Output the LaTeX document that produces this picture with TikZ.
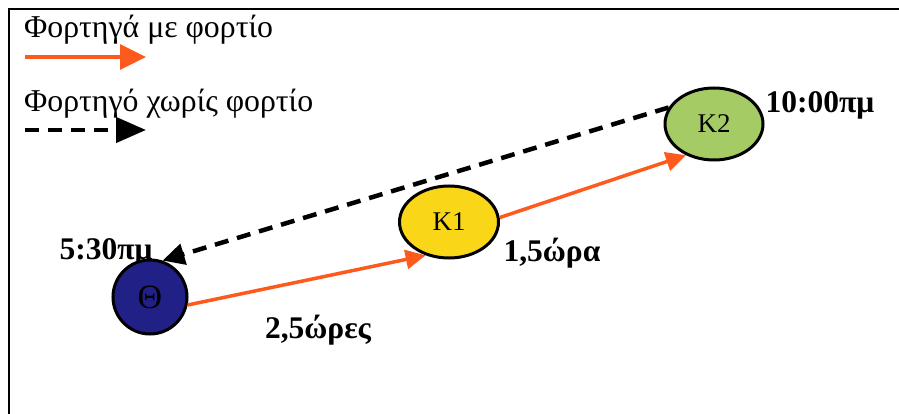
\documentclass[tikz,border=0pt]{standalone}
\usepackage{fontspec}
\setmainfont{Liberation Serif}
\usepackage{xcolor}
\usepackage{tikz}
\usetikzlibrary{shapes.geometric, arrows.meta, positioning}
\definecolor{loadorange}{RGB}{255,90,30}
\definecolor{depotblue}{RGB}{32,32,135}
\definecolor{kyellow}{RGB}{250,214,25}
\definecolor{kgreen}{RGB}{165,204,100}

\begin{document}
\begin{tikzpicture}[x=1pt, y=-1pt,
  legend/.style={font=\fontsize{31.8}{34}\selectfont, anchor=west, inner sep=0pt},
  timelbl/.style={font=\fontsize{31.5}{34}\selectfont\bfseries, inner sep=0pt},
  stop/.style={ellipse, draw=black, line width=3pt, inner sep=0pt,
    font=\fontsize{27}{29}\selectfont},
  loaded/.style={loadorange, line width=3.5pt, -{Triangle[length=20pt,width=19pt]}},
  empty/.style={black, line width=4.5pt, dash pattern=on 14pt off 9pt,
    -{Triangle[length=22pt,width=21pt]}}]
  \useasboundingbox (0,0) rectangle (899,414);
  % frame (only top and left edge visible)
  \draw[line width=2.5pt] (9,414) -- (9,9) -- (899,9);
  % legend
  \node[legend] (legA) at (24,30) {Φορτηγά με φορτίο};
  \coordinate (legAs) at (25,57);
  \coordinate (legAe) at (146,57);
  \draw[loaded, -{Triangle[length=26pt,width=25pt]}] (legAs) -- (legAe);
  \node[legend] (legB) at (24,104) {Φορτηγό χωρίς φορτίο};
  \coordinate (legBs) at (25,130);
  \coordinate (legBe) at (146,130);
  \draw[empty, -{Triangle[length=30pt,width=25pt]}] (legBs) -- (legBe);
  % time labels (drawn first, arrow head lies over them)
  \node[timelbl] (t0) at (106,252) {5:30πμ};
  \node[timelbl] (t1) at (318,330) {2,5ώρες};
  \node[timelbl] (t2) at (552,253) {1,5ώρα};
  \node[timelbl] (t3) at (820,105) {10:00πμ};
  % stops
  \node[stop, circle, fill=depotblue, minimum size=74pt, text=black,
    font=\fontsize{34}{36}\selectfont] (th) at (150,297) {Θ};
  \node[stop, fill=kyellow, minimum width=99pt, minimum height=72pt] (K1) at (449,222) {K1};
  \node[stop, fill=kgreen, minimum width=98pt, minimum height=72pt] (K2) at (714,124) {K2};
  % routes
  \draw[loaded] (th.-12) -- (K1.-125);
  \draw[loaded] (K1.5) -- (K2.-132);
  \draw[empty] (K2.160) -- (th.71);
\end{tikzpicture}
\end{document}
